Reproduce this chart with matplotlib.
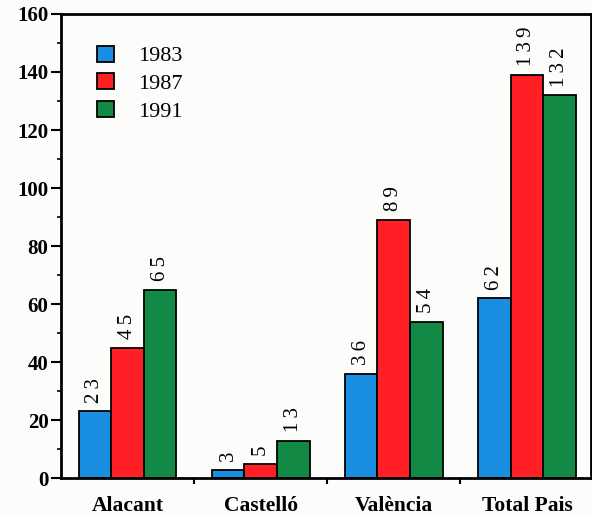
import numpy as np
import matplotlib
matplotlib.use("Agg")
import matplotlib.pyplot as plt
from matplotlib.ticker import MultipleLocator, FixedLocator, NullFormatter

categories = ["Alacant", "Castelló", "València", "Total Pais"]
years = ["1983", "1987", "1991"]
values_1983 = [23, 3, 36, 62]
values_1987 = [45, 5, 89, 139]
values_1991 = [65, 13, 54, 132]
colors = ["#1a8ee0", "#ff1f24", "#128a45"]

plt.rcParams["font.family"] = ["Liberation Serif", "DejaVu Serif"]

fig = plt.figure(figsize=(5.92, 5.17), dpi=100, facecolor="#fcfcfa")
ax = fig.add_axes([0.103, 0.075, 0.895, 0.898])
ax.set_facecolor("#fcfcfa")

x = np.arange(len(categories))
width = 0.245
series = [values_1983, values_1987, values_1991]

for i, (vals, col, yr) in enumerate(zip(series, colors, years)):
    pos = x + (i - 1) * width
    ax.bar(pos, vals, width, color=col, edgecolor="black", linewidth=1.3, label=yr)
    for p, v in zip(pos, vals):
        # letter-spaced digits like the original print
        ax.text(p, v + 3, "\u2009".join(str(v)), rotation=90, ha="center",
                va="bottom", fontsize=15)

ax.set_xlim(-0.5, 3.48)
ax.set_ylim(0, 160)
ax.yaxis.set_major_locator(MultipleLocator(20))
ax.yaxis.set_minor_locator(MultipleLocator(10))
ax.set_xticks(x)
ax.set_xticklabels(categories, fontsize=15.5, fontweight="bold")
ax.xaxis.set_minor_locator(FixedLocator([0.5, 1.5, 2.5]))
ax.xaxis.set_minor_formatter(NullFormatter())
ax.tick_params(axis="x", which="major", length=0, pad=13)
ax.tick_params(axis="x", which="minor", length=4, width=1.5, direction="out")
ax.tick_params(axis="y", which="major", length=7, width=1.5, labelsize=15, pad=2)
ax.tick_params(axis="y", which="minor", length=3, width=1.2)
for lab in ax.get_yticklabels():
    lab.set_fontweight("bold")

for side in ["left", "bottom", "top", "right"]:
    ax.spines[side].set_linewidth(2)

ax.legend(loc="upper left", bbox_to_anchor=(0.068, 0.932), frameon=False,
          fontsize=16, handlelength=0.75, handleheight=0.75, handletextpad=1.1,
          labelspacing=0.3, borderpad=0, borderaxespad=0)

fig.savefig("out.png", dpi=100, facecolor=fig.get_facecolor())
